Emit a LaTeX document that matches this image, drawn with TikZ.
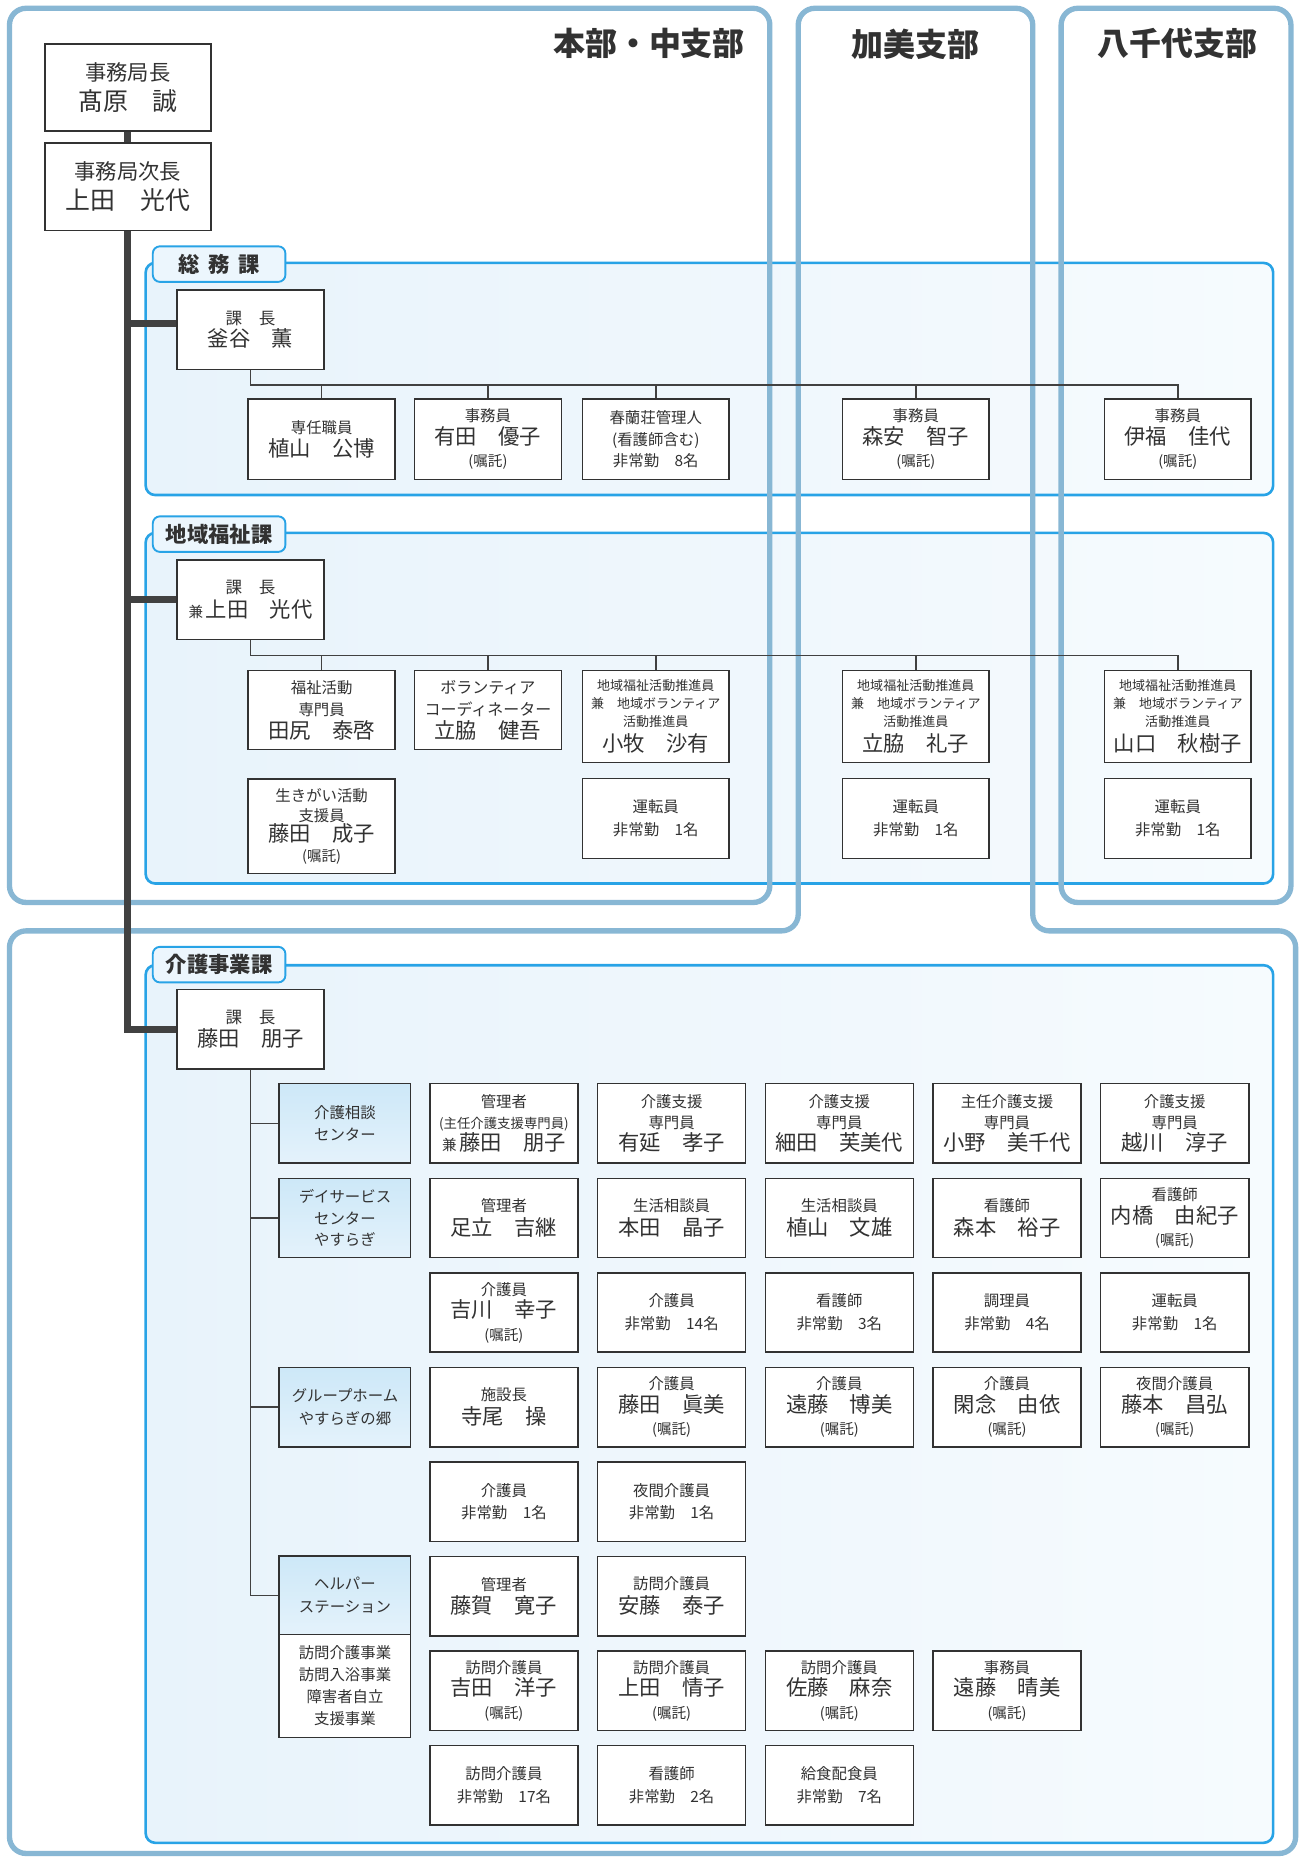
\documentclass[tikz,border=0pt]{standalone}
\usepackage{fontspec}
\setmainfont{Noto Sans CJK JP}
\usetikzlibrary{calc}
\definecolor{steel}{RGB}{136,183,212}
\definecolor{secblue}{RGB}{40,163,230}
\definecolor{secL}{RGB}{232,243,251}
\definecolor{secR}{RGB}{246,251,254}
\definecolor{facT}{RGB}{205,232,248}
\definecolor{facB}{RGB}{228,242,251}
\definecolor{tabfill}{RGB}{236,246,253}
\definecolor{ink}{RGB}{50,50,50}
\definecolor{lnk}{RGB}{65,65,65}
\newcommand\jN[1]{{\fontsize{18}{20}\selectfont #1}}
\newcommand\jS[1]{{\fontsize{12.3}{13}\selectfont #1}}
\newcommand\jX[1]{{\fontsize{11.3}{12}\selectfont #1}}
\tikzset{
  pbox/.style={draw=ink, line width=1.3pt, fill=white, text=ink, inner sep=0pt,
    align=center, minimum width=124pt, minimum height=67pt, font=\fontsize{13}{19}\selectfont},
  gbox/.style={pbox, minimum width=125pt},
  fbox/.style={pbox, minimum width=111pt, top color=facT, bottom color=facB},
  outl/.style={draw=steel, line width=4.5pt, rounded corners=14pt},
  secline/.style={draw=secblue, line width=2.2pt, rounded corners=8pt},
  secfill/.style={left color=secL, right color=secR, rounded corners=8pt},
  tabst/.style={draw=secblue, line width=1.6pt, fill=tabfill, rounded corners=6pt, text=ink,
    minimum width=112pt, minimum height=30pt, inner sep=0pt, font=\bfseries\fontsize{18}{18}\selectfont},
  hdr/.style={text=ink, inner sep=0pt, font=\bfseries\fontsize{27}{27}\selectfont},
  conn/.style={draw=lnk, line width=1.3pt},
  trunk/.style={draw=lnk, line width=6pt, line join=miter}
}
\begin{document}
\begin{tikzpicture}[x=1pt,y=-1pt]
\useasboundingbox (0,0) rectangle (1099,1568);
\fill[white] (0,0) rectangle (1099,1568);

% section panels
\foreach \ya/\yb in {222/418, 450/746, 815/1556} {
  \path[secfill] (123,\ya) rectangle (1075,\yb);
  \draw[secline] (123,\ya) rectangle (1075,\yb);
}

% branch outlines
\draw[outl] (8,7) rectangle (650,762);
\draw[outl] (8,786) -- (674,786) -- (674,7) -- (872,7) -- (872,786) -- (1094,786) -- (1094,1565) -- (8,1565) -- cycle;
\draw[outl] (896,7) rectangle (1090,762);

% headers
\node[hdr] (hq) at (548,37) {本部・中支部};
\node[hdr] (kami) at (773,37) {加美支部};
\node[hdr] (yachiyo) at (994,37) {八千代支部};

% section tabs
\node[tabst] (tab1) at (185,223) {総\hspace{7pt}務\hspace{7pt}課};
\node[tabst] (tab2) at (185,451) {地域福祉課};
\node[tabst] (tab3) at (185,814.5) {介護事業課};

% top management
\node[pbox, minimum width=140pt, minimum height=73.5pt, font=\fontsize{18}{25}\selectfont] (kyoku) at (108,73.7)
  {事務局長\\{\fontsize{21}{22}\selectfont 髙原　誠}};
\node[pbox, minimum width=140pt, minimum height=73.5pt, font=\fontsize{18}{25}\selectfont] (jicho) at (108,157.7)
  {事務局次長\\{\fontsize{21}{22}\selectfont 上田　光代}};

% 総務課
\node[pbox, font=\fontsize{14}{19}\selectfont] (k1) at (211.5,278.5) {課　長\\\jN{釜谷　薫}};
\node[pbox, minimum height=68pt, font=\fontsize{13}{20}\selectfont] (s1a) at (271.6,371) {専任職員\\\jN{植山　公博}};
\node[pbox, minimum height=68pt] (s1b) at (412,371) {事務員\\\jN{有田　優子}\\\jS{(嘱託)}};
\node[pbox, minimum height=68pt, font=\fontsize{13}{18}\selectfont] (s1c) at (553.7,371) {春蘭荘管理人\\(看護師含む)\\非常勤　8名};
\node[pbox, minimum height=68pt] (s1d) at (773.3,371) {事務員\\\jN{森安　智子}\\\jS{(嘱託)}};
\node[pbox, minimum height=68pt] (s1e) at (994.5,371) {事務員\\\jN{伊福　佳代}\\\jS{(嘱託)}};

% 地域福祉課
\node[pbox, font=\fontsize{14}{20}\selectfont] (k2) at (211.5,506.5) {課　長\\\jS{兼}\,\jN{上田　光代}};
\node[pbox, font=\fontsize{13}{19}\selectfont] (s2a) at (271.6,599.5) {福祉活動\\専門員\\\jN{田尻　泰啓}};
\node[pbox, font=\fontsize{13.5}{19}\selectfont] (s2b) at (412,599.5) {ボランティア\\コーディネーター\\\jN{立脇　健吾}};
\node[pbox, minimum height=78pt, font=\fontsize{11}{15}\selectfont] (s2c) at (553.7,605)
  {地域福祉活動推進員\\兼　地域ボランティア\\活動推進員\\[4pt]\jN{小牧　沙有}};
\node[pbox, minimum height=78pt, font=\fontsize{11}{15}\selectfont] (s2d) at (773.3,605)
  {地域福祉活動推進員\\兼　地域ボランティア\\活動推進員\\[4pt]\jN{立脇　礼子}};
\node[pbox, minimum height=78pt, font=\fontsize{11}{15}\selectfont] (s2e) at (994.5,605)
  {地域福祉活動推進員\\兼　地域ボランティア\\活動推進員\\[4pt]\jN{山口　秋樹子}};
\node[pbox, minimum height=79.5pt, font=\fontsize{13}{17}\selectfont] (s2f) at (271.6,697.7)
  {生きがい活動\\支援員\\\jN{藤田　成子}\\\jS{(嘱託)}};
\node[pbox, minimum height=67.5pt] (s2g) at (553.7,691) {運転員\\非常勤　1名};
\node[pbox, minimum height=67.5pt] (s2h) at (773.3,691) {運転員\\非常勤　1名};
\node[pbox, minimum height=67.5pt] (s2i) at (994.5,691) {運転員\\非常勤　1名};

% 介護事業課
\node[pbox, font=\fontsize{14}{20}\selectfont] (k3) at (211.5,869) {課　長\\\jN{藤田　朋子}};
\node[fbox] (f1) at (291.3,948.5) {介護相談\\センター};
\node[fbox, font=\fontsize{13}{18}\selectfont] (f2) at (291.3,1028.4) {デイサービス\\センター\\やすらぎ};
\node[fbox] (f3) at (291.3,1188.1) {グループホーム\\やすらぎの郷};
\node[fbox, minimum height=66pt] (f4) at (291.3,1347) {ヘルパー\\ステーション};
\node[pbox, minimum width=111pt, minimum height=87pt, font=\fontsize{13}{18.5}\selectfont] (f4b) at (291.3,1423.5)
  {訪問介護事業\\訪問入浴事業\\障害者自立\\支援事業};

% grid
\node[gbox, font=\fontsize{13}{18}\selectfont] (g11) at (425.5,948.5) {管理者\\\jX{(主任介護支援専門員)}\\\jS{兼}\,\jN{藤田　朋子}};
\node[gbox, font=\fontsize{13}{18}\selectfont] (g12) at (567.1,948.5) {介護支援\\専門員\\\jN{有延　孝子}};
\node[gbox, font=\fontsize{13}{18}\selectfont] (g13) at (708.7,948.5) {介護支援\\専門員\\\jN{細田　芙美代}};
\node[gbox, font=\fontsize{13}{18}\selectfont] (g14) at (850.3,948.5) {主任介護支援\\専門員\\\jN{小野　美千代}};
\node[gbox, font=\fontsize{13}{18}\selectfont] (g15) at (991.9,948.5) {介護支援\\専門員\\\jN{越川　淳子}};

\node[gbox, font=\fontsize{13}{20}\selectfont] (g21) at (425.5,1028.4) {管理者\\\jN{足立　吉継}};
\node[gbox, font=\fontsize{13}{20}\selectfont] (g22) at (567.1,1028.4) {生活相談員\\\jN{本田　晶子}};
\node[gbox, font=\fontsize{13}{20}\selectfont] (g23) at (708.7,1028.4) {生活相談員\\\jN{植山　文雄}};
\node[gbox, font=\fontsize{13}{20}\selectfont] (g24) at (850.3,1028.4) {看護師\\\jN{森本　裕子}};
\node[gbox] (g25) at (991.9,1028.4) {看護師\\\jN{内橋　由紀子}\\\jS{(嘱託)}};

\node[gbox] (g31) at (425.5,1108.2) {介護員\\\jN{吉川　幸子}\\\jS{(嘱託)}};
\node[gbox] (g32) at (567.1,1108.2) {介護員\\非常勤　14名};
\node[gbox] (g33) at (708.7,1108.2) {看護師\\非常勤　3名};
\node[gbox] (g34) at (850.3,1108.2) {調理員\\非常勤　4名};
\node[gbox] (g35) at (991.9,1108.2) {運転員\\非常勤　1名};

\node[gbox, font=\fontsize{13}{20}\selectfont] (g41) at (425.5,1188.1) {施設長\\\jN{寺尾　操}};
\node[gbox] (g42) at (567.1,1188.1) {介護員\\\jN{藤田　眞美}\\\jS{(嘱託)}};
\node[gbox] (g43) at (708.7,1188.1) {介護員\\\jN{遠藤　博美}\\\jS{(嘱託)}};
\node[gbox] (g44) at (850.3,1188.1) {介護員\\\jN{閑念　由依}\\\jS{(嘱託)}};
\node[gbox] (g45) at (991.9,1188.1) {夜間介護員\\\jN{藤本　昌弘}\\\jS{(嘱託)}};

\node[gbox] (g51) at (425.5,1267.9) {介護員\\非常勤　1名};
\node[gbox] (g52) at (567.1,1267.9) {夜間介護員\\非常勤　1名};

\node[gbox, font=\fontsize{13}{20}\selectfont] (g61) at (425.5,1347.8) {管理者\\\jN{藤賀　寛子}};
\node[gbox, font=\fontsize{13}{20}\selectfont] (g62) at (567.1,1347.8) {訪問介護員\\\jN{安藤　泰子}};

\node[gbox] (g71) at (425.5,1427.6) {訪問介護員\\\jN{吉田　洋子}\\\jS{(嘱託)}};
\node[gbox] (g72) at (567.1,1427.6) {訪問介護員\\\jN{上田　情子}\\\jS{(嘱託)}};
\node[gbox] (g73) at (708.7,1427.6) {訪問介護員\\\jN{佐藤　麻奈}\\\jS{(嘱託)}};
\node[gbox] (g74) at (850.3,1427.6) {事務員\\\jN{遠藤　晴美}\\\jS{(嘱託)}};

\node[gbox] (g81) at (425.5,1507.5) {訪問介護員\\非常勤　17名};
\node[gbox] (g82) at (567.1,1507.5) {看護師\\非常勤　2名};
\node[gbox] (g83) at (708.7,1507.5) {給食配食員\\非常勤　7名};

% trunk
\draw[trunk] (kyoku.south) -- (jicho.north);
\draw[trunk] (jicho.south) |- (k3.west);
\draw[trunk] ([yshift=5.5pt]k1.west) -- ([yshift=5.5pt]k1.west -| jicho.south);
\draw[trunk] (k2.west) -- (k2.west -| jicho.south);

% 総務課 tree
\draw[conn] (k1.south) -- ++(0,12.5) coordinate (h1) -- (h1 -| s1e.north) -- (s1e.north);
\foreach \n in {s1a,s1b,s1c,s1d} \draw[conn] (\n.north) -- (\n.north |- h1);

% 地域福祉課 tree
\draw[conn] (k2.south) -- ++(0,13) coordinate (h2) -- (h2 -| s2e.north) -- (s2e.north);
\foreach \n in {s2a,s2b,s2c,s2d} \draw[conn] (\n.north) -- (\n.north |- h2);

% 介護事業課 tree
\draw[conn] (k3.south) -- (k3.south |- f4.west);
\foreach \n in {f1,f2,f3,f4} \draw[conn] (\n.west) -- (\n.west -| k3.south);
\end{tikzpicture}
\end{document}
